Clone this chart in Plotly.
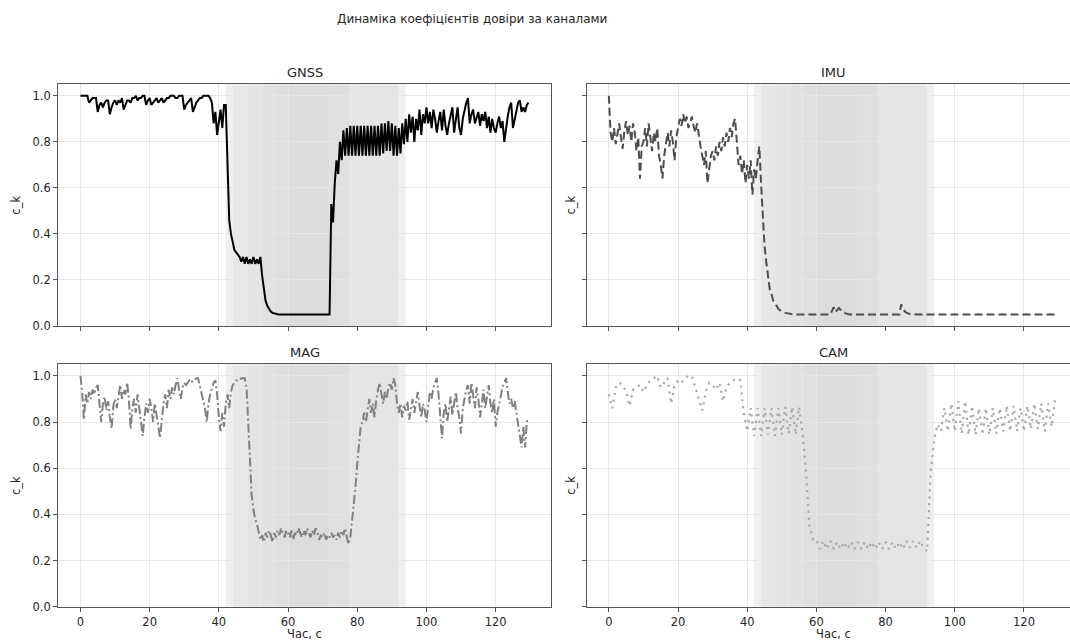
import numpy as np
import plotly.graph_objects as go

# ---------------- data ----------------
dt_main = 0.5   # sampling step of GNSS / IMU / MAG, s
dt_cam = 1.0    # sampling step of CAM, s

gnss = [
    1.0, 1.0, 1.0, 1.0, 1.0, 0.97, 0.98, 0.99, 0.99, 0.99, 0.93, 0.96, 0.97, 0.95, 0.97, 0.98, 0.98, 0.92, 0.95, 0.97,
    0.98, 0.96, 0.98, 0.97, 0.99, 0.94, 0.96, 0.98, 0.98, 0.97, 0.99, 0.99, 1.0, 0.98, 0.99, 0.99, 1.0, 1.0, 0.96, 0.98,
    0.99, 0.96, 0.97, 0.98, 0.99, 0.97, 0.98, 0.99, 0.97, 0.98, 0.99, 0.99, 1.0, 1.0, 1.0, 0.99, 0.99, 1.0, 1.0, 1.0,
    0.94, 0.96, 0.97, 0.98, 0.99, 0.93, 0.95, 0.97, 0.98, 0.99, 0.99, 1.0, 1.0, 1.0, 1.0, 0.99, 0.97, 0.88, 0.93, 0.83,
    0.90, 0.94, 0.86, 0.96, 0.96, 0.70, 0.46, 0.40, 0.36, 0.33, 0.32, 0.31, 0.30, 0.28, 0.30, 0.27, 0.30, 0.27, 0.29, 0.27,
    0.30, 0.27, 0.29, 0.27, 0.30, 0.22, 0.15, 0.11, 0.088, 0.072, 0.063, 0.057, 0.054, 0.052, 0.051, 0.05, 0.05, 0.05, 0.05, 0.05,
    0.05, 0.05, 0.05, 0.05, 0.05, 0.05, 0.05, 0.05, 0.05, 0.05, 0.05, 0.05, 0.05, 0.05, 0.05, 0.05, 0.05, 0.05, 0.05, 0.05,
    0.05, 0.05, 0.05, 0.05, 0.05, 0.53, 0.45, 0.62, 0.72, 0.66, 0.80, 0.72, 0.85, 0.74, 0.86, 0.74, 0.87, 0.74, 0.87, 0.74,
    0.87, 0.74, 0.87, 0.74, 0.87, 0.74, 0.87, 0.74, 0.87, 0.74, 0.87, 0.74, 0.87, 0.74, 0.88, 0.75, 0.88, 0.76, 0.89, 0.76,
    0.88, 0.74, 0.87, 0.74, 0.86, 0.75, 0.88, 0.79, 0.90, 0.80, 0.92, 0.84, 0.91, 0.80, 0.90, 0.85, 0.94, 0.83, 0.92, 0.88,
    0.95, 0.88, 0.93, 0.86, 0.94, 0.90, 0.84, 0.89, 0.93, 0.85, 0.94, 0.87, 0.83, 0.88, 0.92, 0.95, 0.84, 0.90, 0.95, 0.86,
    0.83, 0.90, 0.94, 0.97, 0.99, 0.88, 0.92, 0.94, 0.88, 0.91, 0.93, 0.87, 0.92, 0.89, 0.93, 0.86, 0.91, 0.84, 0.90, 0.86,
    0.84, 0.88, 0.91, 0.86, 0.89, 0.80, 0.86, 0.91, 0.95, 0.97, 0.86, 0.90, 0.94, 0.97, 0.98, 0.93, 0.95, 0.93, 0.96, 0.97,
]

imu = [
    1.0, 0.84, 0.80, 0.86, 0.79, 0.84, 0.88, 0.82, 0.77, 0.85, 0.89, 0.83, 0.87, 0.80, 0.88, 0.84, 0.76, 0.82, 0.64, 0.78,
    0.80, 0.86, 0.78, 0.88, 0.82, 0.76, 0.84, 0.80, 0.86, 0.74, 0.70, 0.64, 0.74, 0.80, 0.84, 0.78, 0.85, 0.80, 0.72, 0.82,
    0.86, 0.90, 0.87, 0.92, 0.88, 0.91, 0.86, 0.89, 0.91, 0.87, 0.84, 0.88, 0.82, 0.78, 0.74, 0.70, 0.76, 0.62, 0.68, 0.74,
    0.76, 0.72, 0.78, 0.74, 0.80, 0.76, 0.82, 0.78, 0.84, 0.80, 0.86, 0.82, 0.88, 0.90, 0.80, 0.70, 0.74, 0.66, 0.72, 0.62,
    0.70, 0.64, 0.72, 0.57, 0.68, 0.64, 0.72, 0.78, 0.62, 0.48, 0.35, 0.28, 0.22, 0.16, 0.14, 0.11, 0.10, 0.085, 0.075, 0.068,
    0.063, 0.06, 0.057, 0.055, 0.053, 0.052, 0.051, 0.05, 0.05, 0.05, 0.05, 0.05, 0.05, 0.05, 0.05, 0.05, 0.05, 0.05, 0.05, 0.05,
    0.05, 0.05, 0.05, 0.05, 0.05, 0.05, 0.05, 0.05, 0.05, 0.065, 0.082, 0.06, 0.07, 0.078, 0.07, 0.062, 0.058, 0.055, 0.052, 0.05,
    0.05, 0.05, 0.05, 0.05, 0.05, 0.05, 0.05, 0.05, 0.05, 0.05, 0.05, 0.05, 0.05, 0.05, 0.05, 0.05, 0.05, 0.05, 0.05, 0.05,
    0.05, 0.05, 0.05, 0.05, 0.05, 0.05, 0.05, 0.05, 0.05, 0.094, 0.075, 0.064, 0.058, 0.054, 0.052, 0.051, 0.05, 0.05, 0.05, 0.05,
    0.05, 0.05, 0.05, 0.05, 0.05, 0.05, 0.05, 0.05, 0.05, 0.05, 0.05, 0.05, 0.05, 0.05, 0.05, 0.05, 0.05, 0.05, 0.05, 0.05,
    0.05, 0.05, 0.05, 0.05, 0.05, 0.05, 0.05, 0.05, 0.05, 0.05, 0.05, 0.05, 0.05, 0.05, 0.05, 0.05, 0.05, 0.05, 0.05, 0.05,
    0.05, 0.05, 0.05, 0.05, 0.05, 0.05, 0.05, 0.05, 0.05, 0.05, 0.05, 0.05, 0.05, 0.05, 0.05, 0.05, 0.05, 0.05, 0.05, 0.05,
    0.05, 0.05, 0.05, 0.05, 0.05, 0.05, 0.05, 0.05, 0.05, 0.05, 0.05, 0.05, 0.05, 0.05, 0.05, 0.05, 0.05, 0.05, 0.05, 0.05,
]

mag = [
    1.0, 0.93, 0.81, 0.92, 0.88, 0.93, 0.90, 0.94, 0.92, 0.95, 0.96, 0.86, 0.80, 0.88, 0.91, 0.85, 0.89, 0.82, 0.77, 0.87,
    0.90, 0.86, 0.92, 0.96, 0.90, 0.94, 0.92, 0.97, 0.90, 0.77, 0.86, 0.90, 0.84, 0.92, 0.86, 0.80, 0.74, 0.82, 0.88, 0.84,
    0.90, 0.86, 0.80, 0.88, 0.82, 0.78, 0.73, 0.82, 0.88, 0.92, 0.86, 0.94, 0.90, 0.95, 0.92, 0.96, 0.99, 0.94, 0.90, 0.95,
    0.97, 0.96, 0.97, 0.98, 0.97, 0.98, 0.98, 0.99, 0.99, 0.96, 0.93, 0.90, 0.86, 0.80, 0.88, 0.92, 0.95, 0.97, 0.98, 0.92,
    0.82, 0.76, 0.84, 0.78, 0.88, 0.92, 0.86, 0.93, 0.96, 0.97, 0.98, 0.98, 0.98, 0.99, 0.99, 0.99, 0.95, 0.80, 0.62, 0.48,
    0.42, 0.38, 0.36, 0.32, 0.29, 0.31, 0.28, 0.32, 0.30, 0.33, 0.31, 0.28, 0.32, 0.30, 0.33, 0.31, 0.34, 0.32, 0.30, 0.33,
    0.32, 0.30, 0.33, 0.29, 0.32, 0.31, 0.34, 0.32, 0.30, 0.33, 0.31, 0.34, 0.32, 0.30, 0.33, 0.31, 0.34, 0.32, 0.29, 0.31,
    0.30, 0.32, 0.29, 0.31, 0.30, 0.32, 0.30, 0.31, 0.29, 0.32, 0.30, 0.33, 0.31, 0.34, 0.30, 0.27, 0.30, 0.37, 0.44, 0.52,
    0.62, 0.72, 0.78, 0.80, 0.84, 0.80, 0.86, 0.90, 0.84, 0.88, 0.82, 0.90, 0.94, 0.97, 0.92, 0.88, 0.93, 0.90, 0.95, 0.97,
    0.94, 0.99, 0.96, 0.88, 0.84, 0.88, 0.82, 0.87, 0.85, 0.89, 0.81, 0.86, 0.90, 0.84, 0.88, 0.93, 0.87, 0.82, 0.88, 0.85,
    0.80, 0.88, 0.93, 0.90, 0.95, 0.97, 0.99, 0.92, 0.80, 0.73, 0.84, 0.88, 0.80, 0.86, 0.91, 0.83, 0.88, 0.93, 0.86, 0.82,
    0.75, 0.86, 0.90, 0.94, 0.96, 0.88, 0.97, 0.92, 0.86, 0.95, 0.90, 0.82, 0.88, 0.94, 0.86, 0.92, 0.96, 0.88, 0.84, 0.90,
    0.78, 0.84, 0.88, 0.92, 0.95, 0.97, 0.99, 0.93, 0.88, 0.90, 0.86, 0.89, 0.84, 0.80, 0.74, 0.69, 0.78, 0.69, 0.80, 0.82,
]

cam = [
    0.92, 0.86, 0.95, 0.97, 0.96, 0.93, 0.87, 0.94, 0.95, 0.96,
    0.93, 0.96, 0.98, 0.99, 1.0, 0.95, 0.97, 0.99, 0.88, 0.96,
    0.98, 0.97, 0.99, 1.0, 1.0, 0.95, 0.89, 0.85, 0.93, 0.97,
    0.96, 0.94, 0.97, 0.89, 0.95, 0.97, 0.98, 0.99, 0.98, 0.84,
    0.76, 0.86, 0.74, 0.86, 0.74, 0.86, 0.745, 0.86, 0.74, 0.86,
    0.745, 0.865, 0.75, 0.865, 0.745, 0.865, 0.75, 0.58, 0.35, 0.29,
    0.29, 0.25, 0.285, 0.25, 0.285, 0.25, 0.28, 0.25, 0.28, 0.25,
    0.28, 0.25, 0.28, 0.25, 0.28, 0.25, 0.28, 0.25, 0.28, 0.25,
    0.28, 0.25, 0.28, 0.25, 0.28, 0.25, 0.285, 0.255, 0.285, 0.255,
    0.285, 0.255, 0.24, 0.58, 0.72, 0.79, 0.76, 0.86, 0.76, 0.88,
    0.76, 0.89, 0.75, 0.89, 0.745, 0.87, 0.745, 0.86, 0.745, 0.86,
    0.745, 0.86, 0.75, 0.86, 0.76, 0.87, 0.76, 0.87, 0.76, 0.86,
    0.76, 0.87, 0.77, 0.88, 0.77, 0.88, 0.76, 0.88, 0.78, 0.90,
]

channel_names = ["GNSS", "IMU", "MAG", "CAM"]
x_tick_vals = [0, 20, 40, 60, 80, 100, 120]
y_tick_vals = [0.0, 0.2, 0.4, 0.6, 0.8, 1.0]

# shaded degradation windows (s): consecutive edges, and the grey of each band
band_edges = [42, 44, 48, 52, 56, 60, 72, 78, 92, 94]
band_colors = ["#efefef", "#e7e7e7", "#e4e4e4", "#e2e2e2", "#dfdfdf",
               "#dcdcdc", "#dfdfdf", "#e5e5e5", "#efefef"]

title_text = "Динаміка коефіцієнтів довіри за каналами"
x_label = "Час, с"
y_label = "c_k"

# ---------------- styling / layout ----------------
W, H = 1070, 641
FONT = "DejaVu Sans"
TXT = "#262626"
SPINE = "#555555"
GRID = "#e6e6e6"

series = [
    (gnss, dt_main, dict(color="#000000", width=2.0)),
    (imu, dt_main, dict(color="#4d4d4d", width=2.0, dash="8px,4px")),
    (mag, dt_main, dict(color="#808080", width=2.0, dash="9px,3px,2px,3px")),
    (cam, dt_cam, dict(color="#a9a9a9", width=2.2, dash="2.2px,4.7px")),
]

# pixel boxes of the four panels (left, right, top, bottom)
col_x = [(58.3, 551.0), (586.7, 1070.0)]
row_y = [(84.3, 326.0), (364.3, 606.7)]
x_ranges = [[-6.4, 136.0], [-6.4, 133.3]]
col_center = [304.6, 833.0]

fig = go.Figure()
layout = dict(
    width=W, height=H,
    margin=dict(l=0, r=0, t=0, b=0),
    paper_bgcolor="white", plot_bgcolor="white",
    showlegend=False,
    font=dict(family=FONT, size=11, color=TXT),
)

shapes = []
annotations = []
for i in range(4):
    r, c = divmod(i, 2)
    n = i + 1
    xs = "" if n == 1 else str(n)
    x0p, x1p = col_x[c]
    y0p, y1p = row_y[r]
    vals, step, line = series[i]
    t = np.arange(len(vals)) * step
    fig.add_trace(go.Scatter(x=t, y=vals, mode="lines", line=line,
                             xaxis="x" + xs, yaxis="y" + xs,
                             hoverinfo="skip"))
    layout["xaxis" + xs] = dict(
        domain=[x0p / W, x1p / W], anchor="y" + xs, range=x_ranges[c],
        tickmode="array", tickvals=x_tick_vals,
        showticklabels=(r == 1), ticks="outside", ticklen=4, tickwidth=1,
        tickcolor=SPINE, showline=True, linecolor=SPINE, linewidth=1.3,
        mirror=True, showgrid=True, gridcolor=GRID, gridwidth=1,
        zeroline=False, tickfont=dict(size=11.5, color=TXT),
        automargin=False,
    )
    layout["yaxis" + xs] = dict(
        domain=[1 - y1p / H, 1 - y0p / H], anchor="x" + xs, range=[0, 1.05],
        tickmode="array", tickvals=y_tick_vals, tickformat=".1f",
        showticklabels=(c == 0), ticks="outside", ticklen=4, tickwidth=1,
        tickcolor=SPINE, showline=True, linecolor=SPINE, linewidth=1.3,
        mirror=(c == 0), showgrid=True, gridcolor=GRID, gridwidth=1,
        zeroline=False, tickfont=dict(size=11.5, color=TXT),
        automargin=False,
    )
    for k in range(len(band_colors)):
        shapes.append(dict(type="rect", xref="x" + xs, yref="y" + xs + " domain",
                           x0=band_edges[k], x1=band_edges[k + 1], y0=0, y1=1,
                           fillcolor=band_colors[k], line=dict(width=0),
                           layer="below"))
    cx = col_center[c]
    annotations.append(dict(text=channel_names[i], xref="paper", yref="paper",
                            x=cx / W, y=1 - (y0p - 11.5) / H,
                            xanchor="center", yanchor="middle", showarrow=False,
                            font=dict(size=13, color=TXT)))
    ylab_x = 16.5 if c == 0 else 571.3
    annotations.append(dict(text=y_label, xref="paper", yref="paper",
                            x=ylab_x / W, y=1 - ((y0p + y1p) / 2) / H,
                            xanchor="center", yanchor="middle", textangle=-90,
                            showarrow=False, font=dict(size=11.5, color=TXT)))
    if r == 1:
        annotations.append(dict(text=x_label, xref="paper", yref="paper",
                                x=cx / W, y=1 - 634 / H,
                                xanchor="center", yanchor="middle",
                                showarrow=False, font=dict(size=11.5, color=TXT)))

annotations.append(dict(text=title_text, xref="paper", yref="paper",
                        x=472 / W, y=1 - 19 / H, xanchor="center",
                        yanchor="middle", showarrow=False,
                        font=dict(size=12, color=TXT)))

layout["shapes"] = shapes
layout["annotations"] = annotations
fig.update_layout(**layout)

fig.write_html(
    "out.html",
    config={"displayModeBar": False},
    post_script="document.body.style.margin='0px';document.body.style.overflow='hidden';",
)
